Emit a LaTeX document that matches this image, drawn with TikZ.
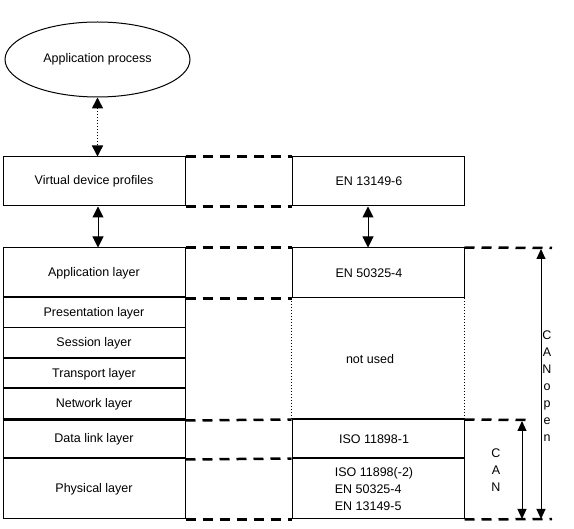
\documentclass[tikz,border=0pt]{standalone}
\usepackage{fontspec}
\setmainfont{Liberation Sans}
\usetikzlibrary{shapes.geometric,arrows.meta}
\tikzset{every node/.style={font=\fontsize{12.5}{17}\selectfont},
	box/.style={draw, line width=1pt, rectangle, minimum width=182pt, inner sep=0pt},
	rbox/.style={draw, line width=1pt, rectangle, minimum width=172pt, inner sep=0pt},
	link/.style={line width=2.5pt, dash pattern=on 10pt off 7pt},
	sep/.style={line width=2pt},
	dbl/.style={{Triangle[length=11pt,width=11pt]}-{Triangle[length=11pt,width=11pt]}, line width=1pt},
	thin dbl/.style={{Triangle[length=10pt,width=9pt]}-{Triangle[length=10pt,width=9pt]}, line width=1pt},
	letters/.style={align=center, inner sep=0pt}}

\begin{document}
\begin{tikzpicture}[x=1pt,y=-1pt]
		\useasboundingbox (0,0) rectangle (574,529);
		% left column
		\node[ellipse, draw, line width=1pt, minimum width=185pt, minimum height=75pt] (proc) at (97.5,59.5){Application process};
		\node[box, minimum height=49pt] (vdp) at (94,181.5){Virtual device profiles};
		\node[box, minimum height=50pt] (app) at (94,273){Application layer};
		\node[box, minimum height=30pt] (pres) at (94,313){Presentation layer};
		\node[box, minimum height=31pt] (sess) at (94,343.5){Session layer};
		\node[box, minimum height=30pt] (trans) at (94,374){Transport layer};
		\node[box, minimum height=31pt] (net) at (94,404.5){Network layer};
		\node[box, minimum height=39pt] (dll) at (94,439.5){Data link layer};
		\node[box, minimum height=60pt] (phy) at (94,489){Physical layer};
		% right column
		\node[rbox, minimum height=49pt, label={[xshift=-9pt]center:EN 13149-6}] (en6) at (378,181.5){};
		\node[rbox, minimum height=50pt, label={[xshift=-9pt]center:EN 50325-4}] (en4) at (378,273){};
		\node[minimum width=172pt, minimum height=122pt, inner sep=0pt, label={[xshift=-8pt]center:not used}] (unused) at (378,359){};
		\node[rbox, minimum height=39pt, label={[xshift=-4pt]center:ISO 11898-1}] (iso1) at (378,439.5){};
		\node[rbox, minimum height=60pt, label={[xshift=-4pt,align=left]center:ISO 11898(-2)\\EN 50325-4\\EN 13149-5}] (iso2) at (378,489){};
		\draw[dotted, line width=1pt] (unused.north west) -- (unused.south west);
		\draw[dotted, line width=1pt] (unused.north east) -- (unused.south east);
		% thicker layer borders
		\draw[sep] (pres.north west) -- (pres.north east);
		\draw[sep] (trans.north west) -- (trans.north east);
		\draw[sep] (net.north west) -- (net.north east);
		\draw[line width=3pt] (dll.north west) -- (dll.north east);
		\draw[sep] (phy.north west) -- (phy.north east);
		\draw[sep] (iso1.north west) -- (iso1.north east);
		\draw[sep] (iso2.north west) -- (iso2.north east);
		% dashed links
		\draw[link] (vdp.north east) -- (en6.north west);
		\draw[link] (vdp.south east) -- (en6.south west);
		\draw[link] (app.north east) -- (en4.north west);
		\draw[link] (app.south east) -- (en4.south west);
		\draw[link] (net.south east) -- (iso1.north west);
		\draw[link] (dll.south east) -- (iso2.north west);
		\draw[link] (phy.south east) -- (iso2.south west);
		\coordinate (opentop) at (552,248);
		\coordinate (cantop) at (527,420);
		\coordinate (bottom) at (552,519);
		\draw[link] (en4.north east) -- (opentop);
		\draw[link] (iso1.north east) -- (cantop);
		\draw[link] (iso2.south east) -- (bottom);
		% arrows
		\draw[dbl, dotted, line width=1.5pt] (proc.south) to ([xshift=3.5pt]vdp.north);
		\draw[dbl] ([xshift=4pt]vdp.south) to ([xshift=4pt]app.north);
		\draw[dbl] ([xshift=-10pt]en6.south) to ([xshift=-10pt]en4.north);
		\coordinate (canopena) at (541,249);
		\coordinate (canopenb) at (541,519);
		\coordinate (cana) at (522,421);
		\coordinate (canb) at (522,519);
		\draw[thin dbl] (canopena) to (canopenb);
		\draw[thin dbl] (cana) to (canb);
		\node[letters] (can) at (496,470){C\\A\\N};
		\node[letters] (canopen) at (547,386){C\\A\\N\\o\\p\\e\\n};
\end{tikzpicture}
\end{document}
